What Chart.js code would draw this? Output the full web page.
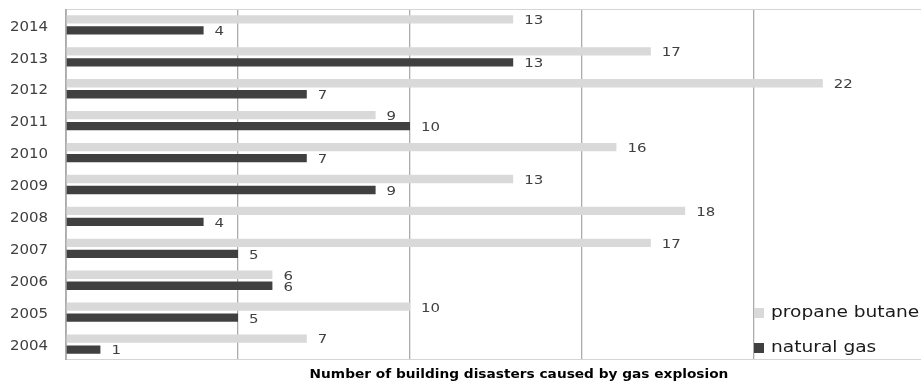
<!DOCTYPE html>
<html>
<head>
<meta charset="utf-8">
<script src="https://cdn.jsdelivr.net/npm/chart.js@4"></script>
<style>
  html, body { margin: 0; padding: 0; background: #fff; }
  #frame { width: 921px; height: 381px; overflow: hidden; position: relative; }
  #wrap { width: 930px; height: 381px; position: absolute; left: 0; top: 0; }
</style>
</head>
<body>
<div id="frame"><div id="wrap"><canvas id="chart"></canvas></div></div>
<script>
// Building disasters caused by gas explosion, per year
const years = ['2004', '2005', '2006', '2007', '2008', '2009', '2010', '2011', '2012', '2013', '2014'];
const propaneButane = [7, 10, 6, 17, 18, 13, 16, 9, 22, 17, 13];
const naturalGas = [1, 5, 6, 5, 4, 9, 7, 10, 7, 13, 4];
const seriesNames = ['propane butane', 'natural gas'];
const axisTitle = 'Number of building disasters caused by gas explosion';

const FONT = '"DejaVu Sans", sans-serif';
const TEXT = '#404040';

// Light frame along the top and bottom of the plot area, left axis line
const framePlugin = {
  id: 'frame',
  beforeDatasetsDraw(chart) {
    const { ctx, chartArea: a } = chart;
    ctx.save();
    ctx.lineWidth = 1;
    ctx.strokeStyle = '#d4d4d4';
    ctx.beginPath();
    ctx.moveTo(a.left, Math.round(a.top) + 0.5);
    ctx.lineTo(a.right, Math.round(a.top) + 0.5);
    ctx.moveTo(a.left, Math.round(a.bottom) - 0.5);
    ctx.lineTo(a.right, Math.round(a.bottom) - 0.5);
    ctx.stroke();
    ctx.strokeStyle = '#b4b4b4';
    ctx.beginPath();
    ctx.moveTo(Math.round(a.left) + 0.5, a.top);
    ctx.lineTo(Math.round(a.left) + 0.5, a.bottom);
    ctx.stroke();
    ctx.restore();
  }
};

// Year labels beside the category axis
const yearLabels = {
  id: 'yearLabels',
  afterDraw(chart) {
    const { ctx } = chart;
    const y = chart.scales.y;
    ctx.save();
    ctx.font = '14px ' + FONT;
    ctx.fillStyle = TEXT;
    ctx.textBaseline = 'middle';
    chart.data.labels.forEach((lab, i) => {
      ctx.save();
      ctx.translate(48, y.getPixelForValue(i) + 2);
      ctx.scale(1.07, 1);
      ctx.textAlign = 'right';
      ctx.fillText(lab, 0, 0);
      ctx.restore();
    });
    ctx.restore();
  }
};

// Value labels at the end of each bar
const valueLabels = {
  id: 'valueLabels',
  afterDatasetsDraw(chart) {
    const { ctx } = chart;
    ctx.save();
    ctx.font = '13px ' + FONT;
    ctx.fillStyle = TEXT;
    ctx.textBaseline = 'middle';
    chart.data.datasets.forEach((ds, di) => {
      chart.getDatasetMeta(di).data.forEach((bar, i) => {
        ctx.save();
        ctx.translate(bar.x + 11, bar.y + 1.5);
        ctx.scale(1.15, 1);
        ctx.fillText(String(ds.data[i]), 0, 0);
        ctx.restore();
      });
    });
    ctx.restore();
  }
};

// Legend in the lower right corner of the plot, and the axis title
const legendAndTitle = {
  id: 'legendAndTitle',
  afterDraw(chart) {
    const { ctx } = chart;
    ctx.save();
    const rows = [313, 348];
    chart.data.datasets.forEach((ds, i) => {
      ctx.fillStyle = ds.backgroundColor;
      ctx.fillRect(754, rows[i] - 5, 10, 10);
      ctx.save();
      ctx.translate(771, rows[i]);
      ctx.scale(1.24, 1);
      ctx.font = '15px ' + FONT;
      ctx.fillStyle = '#1a1a1a';
      ctx.textBaseline = 'middle';
      ctx.fillText(ds.label, 0, 0);
      ctx.restore();
    });
    ctx.translate(519, 374.5);
    ctx.scale(1.055, 1);
    ctx.font = 'bold 13px ' + FONT;
    ctx.fillStyle = '#000';
    ctx.textAlign = 'center';
    ctx.textBaseline = 'middle';
    ctx.fillText(axisTitle, 0, 0);
    ctx.restore();
  }
};

new Chart(document.getElementById('chart'), {
  type: 'bar',
  data: {
    labels: years,
    datasets: [
      { label: seriesNames[0], data: propaneButane, backgroundColor: '#d9d9d9' },
      { label: seriesNames[1], data: naturalGas, backgroundColor: '#404040' }
    ]
  },
  options: {
    indexAxis: 'y',
    responsive: true,
    maintainAspectRatio: false,
    animation: false,
    datasets: { bar: { categoryPercentage: 0.69, barPercentage: 0.755 } },
    layout: { padding: { top: 9, right: 4, bottom: 0, left: 0 } },
    plugins: { legend: { display: false }, tooltip: { enabled: false } },
    scales: {
      x: {
        min: 0,
        max: 25,
        ticks: { display: false, stepSize: 5 },
        grid: { color: '#acacac', lineWidth: 1.3, drawTicks: false },
        border: { display: false },
        afterFit(scale) { scale.height = 21; }
      },
      y: {
        reverse: true,
        ticks: { display: false },
        grid: { display: false, drawTicks: false },
        border: { display: false },
        afterFit(scale) { scale.width = 66; }
      }
    }
  },
  plugins: [framePlugin, valueLabels, yearLabels, legendAndTitle]
});
</script>
</body>
</html>
